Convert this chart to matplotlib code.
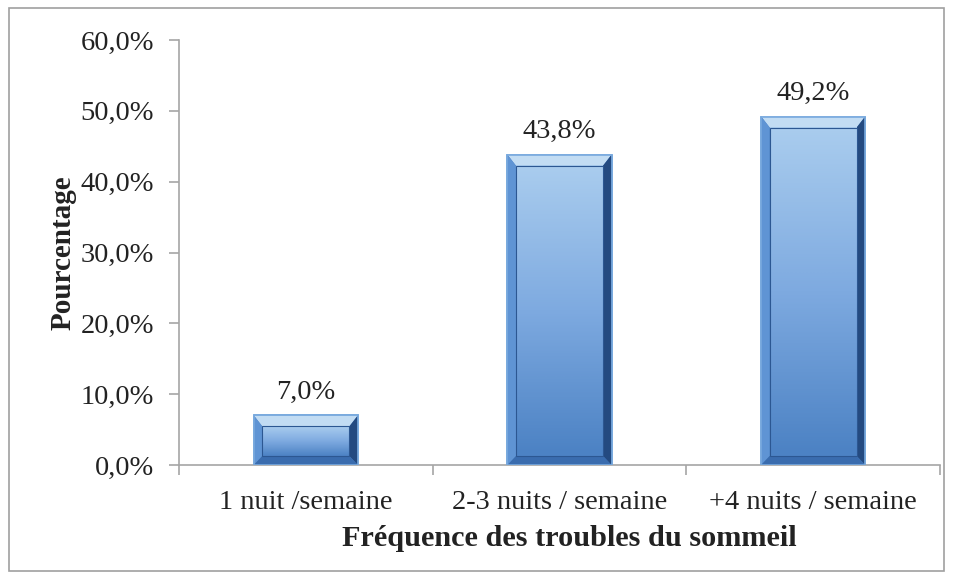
import numpy as np
import matplotlib
matplotlib.use("Agg")
import matplotlib.pyplot as plt
from matplotlib.patches import Polygon, Rectangle
from matplotlib.colors import LinearSegmentedColormap

# data
categories = ["1 nuit /semaine", "2-3 nuits / semaine", "+4 nuits / semaine"]
values = [7.0, 43.8, 49.2]
value_labels = ["7,0%", "43,8%", "49,2%"]
y_ticks = [0, 10, 20, 30, 40, 50, 60]
y_tick_labels = ["0,0%", "10,0%", "20,0%", "30,0%", "40,0%", "50,0%", "60,0%"]

plt.rcParams['font.family'] = ['Liberation Serif', 'DejaVu Serif']
fs = 20.5
fig = plt.figure(figsize=(9.57, 5.79), dpi=100)
ax = fig.add_axes([179 / 957, 114 / 579, (940 - 179) / 957, (465 - 40) / 579])

x = np.arange(len(categories))
width = 0.41
bars = ax.bar(x, values, width=width, color="#4a80c3", edgecolor="#78a9de", linewidth=1.2, zorder=2)

ax.set_xlim(-0.5, len(categories) - 0.5)
ax.set_ylim(0, 60)

# fake the excel bevel effect on each bar
face_cmap = LinearSegmentedColormap.from_list("face", ["#a9ccee", "#7eaae0", "#4c82c4"])
grad = np.linspace(0, 1, 64).reshape(-1, 1)
bx = 8.5 / 253.5      # bevel width in data units (x)
by = 60 / 425.0       # data units per pixel (y)
for b in bars:
    x0, x1 = b.get_x(), b.get_x() + b.get_width()
    y0, y1 = 0, b.get_height()
    ix0, ix1 = x0 + bx, x1 - bx
    iy0, iy1 = y0 + by * 9, y1 - by * 11
    if iy1 < iy0 + 0.5:
        iy1 = iy0 + 0.5
    ax.add_patch(Polygon([(x0, y1), (x1, y1), (ix1, iy1), (ix0, iy1)], closed=True,
                         facecolor="#c2dcf3", edgecolor="none", zorder=3))
    ax.add_patch(Polygon([(x0, y0), (ix0, iy0), (ix0, iy1), (x0, y1)], closed=True,
                         facecolor="#5f94d4", edgecolor="none", zorder=3))
    ax.add_patch(Polygon([(x1, y0), (x1, y1), (ix1, iy1), (ix1, iy0)], closed=True,
                         facecolor="#244a80", edgecolor="none", zorder=3))
    ax.add_patch(Polygon([(x0, y0), (x1, y0), (ix1, iy0), (ix0, iy0)], closed=True,
                         facecolor="#3a6cae", edgecolor="none", zorder=3))
    ax.imshow(grad, cmap=face_cmap, extent=(ix0, ix1, iy0, iy1), aspect="auto",
              origin="upper", zorder=4, interpolation="bilinear")
    ax.add_patch(Rectangle((ix0, iy0), ix1 - ix0, iy1 - iy0, facecolor="none",
                           edgecolor="#2c5792", linewidth=0.8, zorder=5))
    ax.add_patch(Rectangle((x0, y0), x1 - x0, y1 - y0, facecolor="none",
                           edgecolor="#78a9de", linewidth=1.2, zorder=5))

ax.set_xlim(-0.5, len(categories) - 0.5)
ax.set_ylim(0, 60)

for xi, v, lab in zip(x, values, value_labels):
    ax.text(xi, v + 1.5, lab, ha="center", va="bottom", fontsize=fs, color="#222222")

ax.set_yticks(y_ticks)
ax.set_yticklabels(y_tick_labels, fontsize=fs, color="#222222")
ax.set_xticks(x)
ax.set_xticklabels(categories, fontsize=fs, color="#222222")
ax.set_xticks(np.arange(len(categories) + 1) - 0.5, minor=True)
ax.tick_params(axis="x", which="major", length=0, pad=18)
ax.tick_params(axis="x", which="minor", length=7, color="#a6a6a6", width=1.2)
ax.tick_params(axis="y", length=7, color="#a6a6a6", width=1.2, pad=11)

for s in ["top", "right"]:
    ax.spines[s].set_visible(False)
for s in ["left", "bottom"]:
    ax.spines[s].set_color("#a6a6a6")
    ax.spines[s].set_linewidth(1.2)

ax.set_xlabel("Fréquence des troubles du sommeil", fontsize=fs + 1.3, fontweight="bold",
              color="#222222", labelpad=7)
ax.xaxis.label.set_x(0.513)  # excel centres it a bit right of the plot area
ax.set_ylabel("Pourcentage", fontsize=fs + 0.5, fontweight="bold", color="#222222", labelpad=3)

# outer chart frame
fig.patches.append(Rectangle((9 / 957, 8 / 579), 935 / 957, 563 / 579, transform=fig.transFigure,
                             facecolor="none", edgecolor="#a0a0a0", linewidth=1.2))

fig.savefig("out.png", dpi=100)
